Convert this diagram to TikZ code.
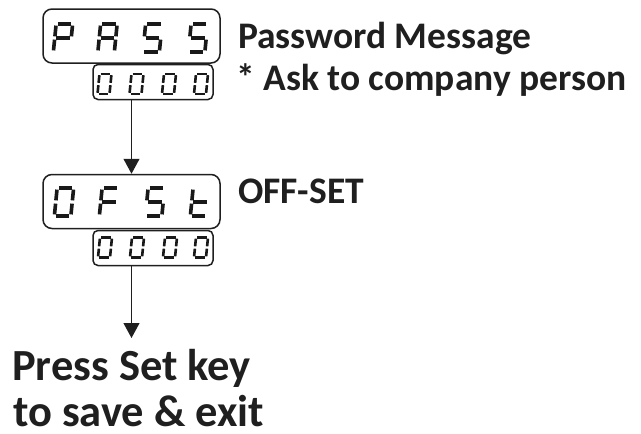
\documentclass[tikz,border=0pt]{standalone}
\usepackage{fontspec}
\setmainfont{Carlito}
\usetikzlibrary{arrows.meta}
\newcommand\sgA{(-\hw+\gp,-\hh) -- (\hw-\gp,-\hh)}
\newcommand\sgB{(\hw,-\hh+\gp) -- (\hw,-\gp)}
\newcommand\sgC{(\hw,\gp) -- (\hw,\hh-\gp)}
\newcommand\sgD{(-\hw+\gp,\hh) -- (\hw-\gp,\hh)}
\newcommand\sgE{(-\hw,\gp) -- (-\hw,\hh-\gp)}
\newcommand\sgF{(-\hw,-\hh+\gp) -- (-\hw,-\gp)}
\newcommand\sgG{(-\hw+\gp,0) -- (\hw-\gp,0)}
% #1 x, #2 y, #3 width, #4 height, #5 line width, #6 segments
\newcommand\segdigit[6]{%
  \begin{scope}[shift={(#1,#2)}, xslant=0.1, line width=#5, line cap=butt, draw=black!90]
    \pgfmathsetmacro\hw{#3/2}
    \pgfmathsetmacro\hh{#4/2}
    \pgfmathsetmacro\gp{#5*0.45}
    \foreach \s in {#6} {\expandafter\draw\csname sg\s\endcsname;}
  \end{scope}}
\begin{document}
\begin{tikzpicture}[x=1pt,y=-1pt,
  bigbox/.style={draw=black!88, line width=1.5pt, rounded corners=9pt, minimum width=177pt, minimum height=54pt, inner sep=0pt},
  smallbox/.style={draw=black!88, line width=1.5pt, rounded corners=5pt, minimum width=120pt, minimum height=35pt, inner sep=0pt},
  arr/.style={draw=black!88, line width=1.2pt, -{Triangle[length=15pt,width=16pt]}},
  lbl/.style={anchor=base west, inner sep=0pt, font=\bfseries\fontsize{37.5}{40}\selectfont, text=black!88},
  big/.style={anchor=base west, inner sep=0pt, font=\bfseries\fontsize{44.5}{48}\selectfont, text=black!88}]
\useasboundingbox (0,0) rectangle (641,434);
% boxes
\node[bigbox] (pass) at (131.5,36) {};
\node[smallbox] (code1) at (153,82) {};
\node[bigbox] (ofst) at (131.5,201.5) {};
\node[smallbox] (code2) at (153,248) {};
\coordinate (end) at (131.5,338);
% connectors
\draw[arr] (pass.south |- code1.south) -- (ofst.north);
\draw[arr] (ofst.south |- code2.south) -- (end);
% big digits PASS
\segdigit{63}{38}{16.5}{28}{3.6}{A,B,E,F,G}
\segdigit{107.5}{38}{16.5}{28}{3.6}{A,B,C,E,F,G}
\segdigit{152.5}{38}{16.5}{28}{3.6}{A,F,G,C,D}
\segdigit{198}{38}{16.5}{28}{3.6}{A,F,G,C,D}
% small 0000
\segdigit{104.5}{84}{12}{20}{2.6}{A,B,C,D,E,F}
\segdigit{136.5}{84}{12}{20}{2.6}{A,B,C,D,E,F}
\segdigit{169}{84}{12}{20}{2.6}{A,B,C,D,E,F}
\segdigit{201}{84}{12}{20}{2.6}{A,B,C,D,E,F}
% big digits OFSt
\segdigit{64}{202}{16.5}{28}{3.6}{A,B,C,D,E,F}
\segdigit{109}{202}{16.5}{28}{3.6}{A,F,G,E}
\segdigit{155}{202}{16.5}{28}{3.6}{A,F,G,C,D}
\segdigit{200}{202}{16.5}{28}{3.6}{F,G,E,D}
% small 0000
\segdigit{105}{247.5}{12}{20}{2.6}{A,B,C,D,E,F}
\segdigit{137}{247.5}{12}{20}{2.6}{A,B,C,D,E,F}
\segdigit{170}{247.5}{12}{20}{2.6}{A,B,C,D,E,F}
\segdigit{201}{247.5}{12}{20}{2.6}{A,B,C,D,E,F}
% texts
\node[lbl] (t1) at (238,48) {Password Message};
\node[lbl] (t2) at (236,90) {* Ask to company person};
\node[lbl] (t3) at (238,203) {OFF-SET};
\node[big] (t4) at (12,380) {Press Set key};
\node[big] (t5) at (13,426) {to save \& exit};
\end{tikzpicture}
\end{document}
